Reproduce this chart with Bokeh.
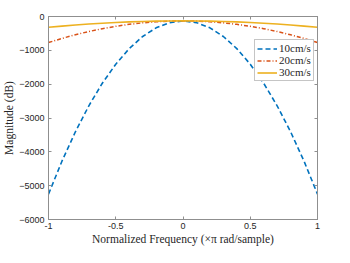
from bokeh.plotting import figure
from bokeh.models import Legend, LegendItem, LinearAxis, FixedTicker, ColumnDataSource
from bokeh.embed import file_html
from bokeh.resources import INLINE

freq = [-1.0, -0.9, -0.8, -0.7, -0.6, -0.5, -0.4, -0.3, -0.2, -0.1, 0.0,
        0.1, 0.2, 0.3, 0.4, 0.5, 0.6, 0.7, 0.8, 0.9, 1.0]
mag_10 = [-5250, -4277, -3407, -2639, -1973, -1410, -949, -591, -335, -181, -130,
          -181, -335, -591, -949, -1410, -1973, -2639, -3407, -4277, -5250]
mag_20 = [-770, -648, -540, -444, -360, -290, -232, -188, -156, -136, -130,
          -136, -156, -188, -232, -290, -360, -444, -540, -648, -770]
mag_30 = [-320, -284, -252, -223, -198, -178, -160, -147, -138, -132, -130,
          -132, -138, -147, -160, -178, -198, -223, -252, -284, -320]
labels = ["10cm/s", "20cm/s", "30cm/s"]
x_ticks = [-1, -0.5, 0, 0.5, 1]
y_ticks = [-6000, -5000, -4000, -3000, -2000, -1000, 0]

src = ColumnDataSource(dict(f=freq, a=mag_10, b=mag_20, c=mag_30))

AX = "#8f8f8f"
TXT = "#262626"
SERIF = "Liberation Serif"
SANS = "Liberation Sans"

p = figure(width=334, height=247, output_backend="svg", toolbar_location=None,
           x_range=(-1, 1), y_range=(-6000, 0),
           min_border_left=36, min_border_right=17, min_border_top=16, min_border_bottom=20)
p.xgrid.visible = False
p.ygrid.visible = False
p.outline_line_color = AX
p.outline_line_width = 1
p.background_fill_color = "white"
p.border_fill_color = "white"

for ax in (p.xaxis[0], p.yaxis[0]):
    ax.axis_line_color = AX
    ax.major_tick_line_color = AX
    ax.major_tick_in = 3
    ax.major_tick_out = 0
    ax.minor_tick_line_color = None
    ax.major_label_text_font = SANS
    ax.major_label_text_font_size = "9px"
    ax.major_label_text_color = TXT
    ax.axis_label_text_font = SERIF
    ax.axis_label_text_font_style = "normal"
    ax.axis_label_text_font_size = "11.5px"
    ax.axis_label_text_color = TXT
    ax.major_label_standoff = 3
    ax.axis_label_standoff = 1

p.yaxis.major_label_standoff = 4
p.xaxis.ticker = FixedTicker(ticks=x_ticks)
p.yaxis.ticker = FixedTicker(ticks=y_ticks)
p.xaxis.major_label_overrides = {-1: "-1", -0.5: "-0.5", 0: "0", 0.5: "0.5", 1: "1"}
p.xaxis.axis_label = "Normalized Frequency (\u00d7\u03c0 rad/sample)"
p.yaxis.axis_label = "Magnitude (dB)"

top = LinearAxis(ticker=FixedTicker(ticks=x_ticks), major_label_text_font_size="0px",
                 axis_line_color=AX, major_tick_line_color=AX, major_tick_in=3, major_tick_out=0,
                 minor_tick_line_color=None, major_label_standoff=0)
right = LinearAxis(ticker=FixedTicker(ticks=y_ticks), major_label_text_font_size="0px",
                   axis_line_color=AX, major_tick_line_color=AX, major_tick_in=3, major_tick_out=0,
                   minor_tick_line_color=None, major_label_standoff=0)
top.major_label_text_color = None
right.major_label_text_color = None
p.add_layout(top, "above")
p.add_layout(right, "right")

r1 = p.line("f", "a", source=src, color="#0072BD", line_width=1.6, line_dash="5 3")
r2 = p.line("f", "b", source=src, color="#D95319", line_width=1.5, line_dash="4 2 1 2")
r3 = p.line("f", "c", source=src, color="#EDB120", line_width=1.6)

legend = Legend(items=[LegendItem(label=labels[0], renderers=[r1]),
                       LegendItem(label=labels[1], renderers=[r2]),
                       LegendItem(label=labels[2], renderers=[r3])],
                location=(206, 138))
legend.label_text_font = SERIF
legend.label_text_font_size = "11px"
legend.label_text_color = TXT
legend.border_line_color = "#8c8c8c"
legend.border_line_width = 1
legend.glyph_width = 20
legend.glyph_height = 11
legend.label_height = 11
legend.label_standoff = 2
legend.spacing = 0
legend.padding = 2
legend.margin = 0
legend.background_fill_alpha = 1
p.add_layout(legend, "center")

open("out.html", "w").write(file_html(p, INLINE))
